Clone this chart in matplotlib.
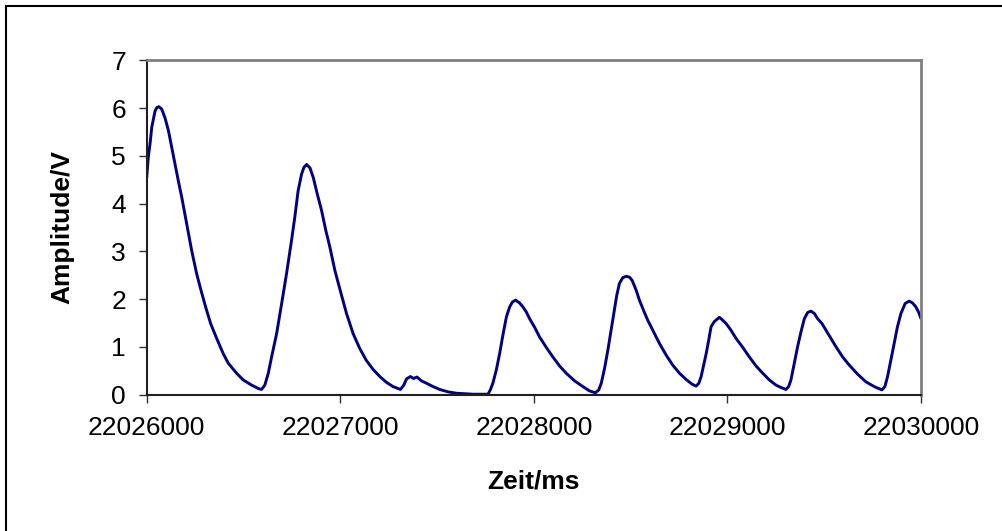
import matplotlib
matplotlib.use("Agg")
import matplotlib.pyplot as plt
from matplotlib.patches import Rectangle

plt.rcParams['font.family'] = ['Liberation Sans', 'DejaVu Sans']

# readings (time in ms, amplitude in V)
zeit_ms = [22026000, 22026008, 22026017, 22026026, 22026043, 22026052, 22026063,
           22026077, 22026094, 22026112, 22026129, 22026146, 22026163, 22026181,
           22026206, 22026232, 22026258, 22026280, 22026304, 22026330, 22026358,
           22026395, 22026421, 22026464, 22026498, 22026542, 22026576, 22026593,
           22026610, 22026628, 22026645, 22026671, 22026697, 22026722, 22026748,
           22026765, 22026782, 22026800, 22026812, 22026826, 22026843, 22026860,
           22026881, 22026903, 22026925, 22026946, 22026972, 22026997, 22027032,
           22027066, 22027100, 22027134, 22027169, 22027204, 22027238, 22027272,
           22027311, 22027328, 22027342, 22027362, 22027378, 22027396, 22027419,
           22027445, 22027479, 22027513, 22027556, 22027600, 22027685, 22027763,
           22027775, 22027788, 22027806, 22027823, 22027840, 22027858, 22027875,
           22027889, 22027906, 22027926, 22027943, 22027961, 22027978, 22028004,
           22028029, 22028064, 22028098, 22028133, 22028167, 22028210, 22028253,
           22028287, 22028318, 22028335, 22028348, 22028365, 22028382, 22028399,
           22028416, 22028428, 22028442, 22028459, 22028477, 22028494, 22028508,
           22028528, 22028545, 22028566, 22028588, 22028618, 22028649, 22028683,
           22028717, 22028752, 22028786, 22028817, 22028838, 22028852, 22028864,
           22028890, 22028903, 22028915, 22028932, 22028958, 22028975, 22028993,
           22029018, 22029044, 22029079, 22029113, 22029148, 22029182, 22029216,
           22029251, 22029277, 22029302, 22029316, 22029328, 22029345, 22029362,
           22029380, 22029397, 22029414, 22029431, 22029449, 22029466, 22029488,
           22029509, 22029535, 22029561, 22029595, 22029629, 22029672, 22029715,
           22029758, 22029798, 22029813, 22029827, 22029844, 22029861, 22029878,
           22029896, 22029918, 22029939, 22029956, 22029973, 22029987, 22030000]
amplitude_v = [4.55, 4.97, 5.25, 5.60, 5.94, 6.01, 6.03,
               5.98, 5.80, 5.53, 5.18, 4.83, 4.48, 4.13,
               3.58, 3.02, 2.53, 2.19, 1.84, 1.49, 1.21,
               0.86, 0.66, 0.45, 0.31, 0.20, 0.13, 0.11,
               0.20, 0.45, 0.79, 1.28, 1.91, 2.53, 3.23,
               3.72, 4.27, 4.62, 4.76, 4.82, 4.75, 4.55,
               4.20, 3.86, 3.44, 3.09, 2.60, 2.22, 1.70,
               1.28, 0.97, 0.72, 0.53, 0.38, 0.26, 0.17,
               0.11, 0.20, 0.33, 0.38, 0.34, 0.37, 0.29,
               0.24, 0.17, 0.11, 0.06, 0.03, 0.01, 0.01,
               0.10, 0.24, 0.52, 0.86, 1.25, 1.63, 1.84,
               1.94, 1.98, 1.92, 1.84, 1.73, 1.59, 1.41,
               1.21, 0.99, 0.79, 0.60, 0.45, 0.29, 0.17,
               0.08, 0.04, 0.10, 0.24, 0.55, 0.93, 1.35,
               1.77, 2.08, 2.33, 2.45, 2.48, 2.46, 2.39,
               2.19, 1.98, 1.77, 1.56, 1.32, 1.07, 0.83,
               0.62, 0.45, 0.32, 0.22, 0.18, 0.24, 0.38,
               0.86, 1.14, 1.42, 1.53, 1.62, 1.56, 1.49,
               1.35, 1.18, 0.99, 0.79, 0.60, 0.45, 0.31,
               0.20, 0.15, 0.11, 0.17, 0.31, 0.66, 1.00,
               1.32, 1.59, 1.72, 1.75, 1.70, 1.59, 1.49,
               1.35, 1.18, 1.00, 0.79, 0.62, 0.43, 0.27,
               0.17, 0.10, 0.17, 0.38, 0.72, 1.07, 1.42,
               1.70, 1.91, 1.96, 1.92, 1.84, 1.73, 1.59]

x_ticks = [22026000, 22027000, 22028000, 22029000, 22030000]
x_labels = ['22026000', '22027000', '22028000', '22029000', '22030000']
y_ticks = [0, 1, 2, 3, 4, 5, 6, 7]

fig = plt.figure(figsize=(10.03, 5.31), dpi=100)
ax = fig.add_axes([0.1463, 0.2567, 0.772, 0.6297])

ax.plot(zeit_ms, amplitude_v, color='#000080', lw=2.1,
        solid_joinstyle='round', solid_capstyle='round')

ax.set_xlim(22026000, 22030000)
ax.set_ylim(0, 7)
ax.set_xticks(x_ticks)
ax.set_xticklabels(x_labels)
ax.set_yticks(y_ticks)
ax.tick_params(axis='both', direction='out', length=6, width=1, color='#303030',
               labelsize=19, pad=9)

for s in ['top', 'right']:
    ax.spines[s].set_color('#808080')
    ax.spines[s].set_linewidth(2)
for s in ['left', 'bottom']:
    ax.spines[s].set_color('#202020')
    ax.spines[s].set_linewidth(1.5)

fig.text(0.0618, 0.5716, 'Amplitude/V', rotation=90, ha='center', va='center',
         fontsize=19, fontweight='bold')
fig.text(0.532, 0.0923, 'Zeit/ms', ha='center', va='center',
         fontsize=19, fontweight='bold')

# outer chart frame (runs off the right and bottom edge)
fig.patches.append(Rectangle((0.0057, -0.2), 1.2, 1.1893, fill=False, lw=1.5,
                             edgecolor='black', transform=fig.transFigure))

fig.savefig('out.png', dpi=100)
